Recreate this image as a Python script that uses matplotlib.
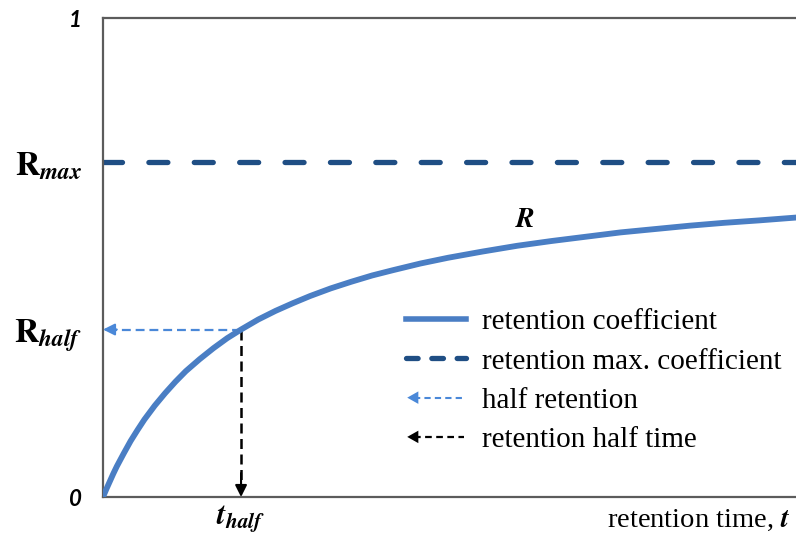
import matplotlib
matplotlib.use("Agg")
import matplotlib.pyplot as plt
from matplotlib.lines import Line2D
from matplotlib.patches import Polygon
from matplotlib.legend_handler import HandlerBase

plt.rcParams["mathtext.fontset"] = "stix"

# retention time in units of t_half
t_values = [0, 0.025, 0.05, 0.075, 0.1, 0.15, 0.2, 0.25, 0.3, 0.375, 0.45,
            0.525, 0.6, 0.7, 0.8, 0.9, 1.0, 1.125, 1.25, 1.375, 1.5, 1.65,
            1.8, 1.95, 2.1, 2.3, 2.5, 2.75, 3.0, 3.25, 3.5, 3.75, 4.0, 4.25,
            4.5, 4.75, 5.02]
r_values = [0, 0.017, 0.033, 0.049, 0.064, 0.091, 0.117, 0.140, 0.162, 0.191,
            0.217, 0.241, 0.263, 0.288, 0.311, 0.332, 0.350, 0.371, 0.389,
            0.405, 0.420, 0.436, 0.450, 0.463, 0.474, 0.488, 0.500, 0.513,
            0.525, 0.535, 0.544, 0.553, 0.560, 0.567, 0.573, 0.578, 0.584]
r_max = 0.70
r_half = 0.35
t_half = 1.0
y_ticks = [0, r_half, r_max, 1]
y_labels = ["0", r"$\mathbf{R}_{\mathbfit{half}}$", r"$\mathbf{R}_{\mathbfit{max}}$", "1"]
legend_labels = ["retention coefficient", "retention max. coefficient",
                 "half retention", "retention half time"]

c_curve = "#4a7ec4"
c_max = "#1f4e84"
c_half = "#4a88d8"
c_axis = "#5c5c5c"


class ArrowHandler(HandlerBase):
    """Legend entry: dashed line with an arrowhead on the left."""

    def create_artists(self, legend, orig_handle, xdescent, ydescent,
                       width, height, fontsize, trans):
        y = height / 2 - ydescent
        x0 = -xdescent + 1
        x1 = width - xdescent - 1
        color = orig_handle.get_color()
        line = Line2D([x0 + 5, x1], [y, y], color=color, lw=orig_handle.get_linewidth(),
                      linestyle=(0, (3, 2)), transform=trans)
        head = Polygon([[x0, y], [x0 + 8, y + 4.5], [x0 + 8, y - 4.5]], closed=True,
                       facecolor=color, edgecolor="none", transform=trans)
        return [line, head]


fig = plt.figure(figsize=(7.96, 5.42), dpi=100)
ax = fig.add_axes([0.1294, 0.083, 0.8706, 0.8829])

ax.plot(t_values, r_values, color=c_curve, lw=4.2, solid_capstyle="round",
        solid_joinstyle="round", zorder=3)
ax.axhline(r_max, color=c_max, lw=3.8, dashes=(3.6, 5.0), dash_capstyle="round")

# half retention arrow (horizontal, to the left)
ax.plot([t_half, 0.06], [r_half, r_half], color=c_half, lw=1.6, dashes=(4, 2.2), zorder=2)
ax.annotate("", xy=(0.0, r_half), xytext=(0.1, r_half),
            arrowprops=dict(arrowstyle="-|>,head_length=0.7,head_width=0.35",
                            color=c_half, lw=1.5, shrinkA=0, shrinkB=0))
# retention half time arrow (vertical, down)
ax.plot([t_half, t_half], [r_half, 0.03], color="black", lw=1.8, dashes=(4, 2.2), zorder=2)
ax.annotate("", xy=(t_half, 0.0), xytext=(t_half, 0.05),
            arrowprops=dict(arrowstyle="-|>,head_length=0.7,head_width=0.35",
                            color="black", lw=1.5, shrinkA=0, shrinkB=0))

ax.text(3.06, 0.58, r"$\mathbfit{R}$", fontsize=20, ha="center", va="center")

ax.set_xlim(0, 5.02)
ax.set_ylim(0, 1)
ax.spines["right"].set_visible(False)
for side in ("left", "bottom", "top"):
    ax.spines[side].set_color(c_axis)
    ax.spines[side].set_linewidth(1.6)

ax.set_yticks(y_ticks)
ax.set_yticklabels(y_labels)
ax.tick_params(axis="y", length=0, pad=15)
for lab in ax.get_yticklabels():
    if lab.get_text() in ("0", "1"):
        lab.set_fontfamily("Lato")
        lab.set_fontweight("bold")
        lab.set_fontstyle("italic")
        lab.set_fontsize(16)
    else:
        lab.set_fontsize(24)

ax.set_xticks([t_half])
ax.set_xticklabels([r"$\mathbfit{t}_{\mathbfit{half}}$"], fontsize=22)
ax.tick_params(axis="x", length=0, pad=4)
ax.set_xlabel(r"retention time, $\mathbfit{t}$", loc="right", fontsize=20.5,
              fontfamily="Liberation Serif", labelpad=-18.5)
ax.xaxis.label.set_x(0.992)

handles = [
    Line2D([], [], color=c_curve, lw=4.0),
    Line2D([], [], color=c_max, lw=3.8, dashes=(2.2, 2.6), dash_capstyle="round"),
    Line2D([], [], color=c_half, lw=1.5),
    Line2D([], [], color="black", lw=1.6),
]
arrow_handler = ArrowHandler()
leg = ax.legend(handles, legend_labels, loc="upper left", bbox_to_anchor=(0.437, 0.393),
                frameon=False, borderpad=0, borderaxespad=0, handlelength=2.05,
                handletextpad=0.55, labelspacing=0.44,
                prop={"family": "Liberation Serif", "size": 21},
                handler_map={handles[2]: arrow_handler, handles[3]: arrow_handler})

fig.savefig("out.png", dpi=100)
